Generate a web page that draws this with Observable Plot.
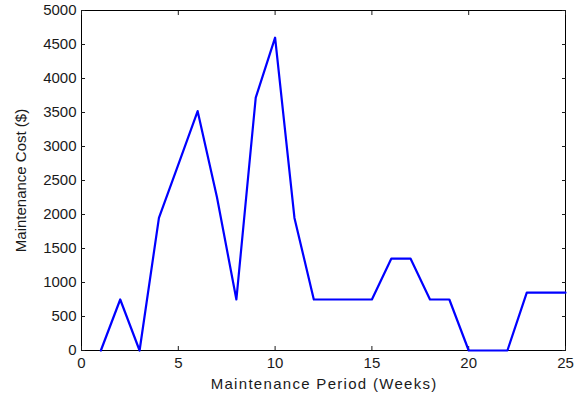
<!DOCTYPE html>
<html><head><meta charset="utf-8">
<script src="https://cdn.jsdelivr.net/npm/d3@7"></script>
<script src="https://cdn.jsdelivr.net/npm/@observablehq/plot@0.6"></script>
<style>body{margin:0;background:#fff}</style>
</head><body><div id="chart"></div>
<script>
const weeks = [1,2,3,4,5,6,7,8,9,10,11,12,13,14,15,16,17,18,19,20,21,22,23,24,25];
const costs = [0,750,0,1950,2735,3520,2250,750,3720,4600,1950,750,750,750,750,1350,1350,750,750,0,0,0,850,850,850];
const xTicks = [0,5,10,15,20,25];
const yTicks = [0,500,1000,1500,2000,2500,3000,3500,4000,4500,5000];
const xLabel = "Maintenance Period (Weeks)";
const yLabel = "Maintenance Cost ($)";
const data = weeks.map((w,i)=>({week:w, cost:costs[i]}));
const chart = Plot.plot({
  width:581, height:393,
  marginLeft:81, marginRight:16, marginTop:10, marginBottom:43,
  style:{fontFamily:"'Liberation Sans', Arial, sans-serif", fontSize:"15px", color:"#1a1a1a", background:"#fff"},
  x:{domain:[0,25]},
  y:{domain:[0,5000]},
  marks:[
    Plot.frame({stroke:"#000"}),
    Plot.axisX({ticks:xTicks, tickSize:-4, tickPadding:11, tickFormat:d3.format("d"), fontSize:15, label:xLabel, labelAnchor:"center", labelOffset:38, labelArrow:"none"}),
    Plot.axisX({anchor:"top", ticks:xTicks, tickSize:-4, tickFormat:()=>"", label:null}),
    Plot.axisY({ticks:yTicks, tickSize:-4, tickPadding:9, tickFormat:d3.format("d"), fontSize:15, label:yLabel, labelAnchor:"center", labelOffset:66, labelArrow:"none"}),
    Plot.axisY({anchor:"right", ticks:yTicks, tickSize:-4, tickFormat:()=>"", label:null}),
    Plot.line(data,{x:"week", y:"cost", stroke:"#0000ff", strokeWidth:2.2})
  ]
});
d3.select(chart).selectAll("text").filter(function(){return this.textContent === xLabel;})
  .style("letter-spacing","1.3px").attr("dx","0.65");
document.getElementById("chart").appendChild(chart);
</script></body></html>
